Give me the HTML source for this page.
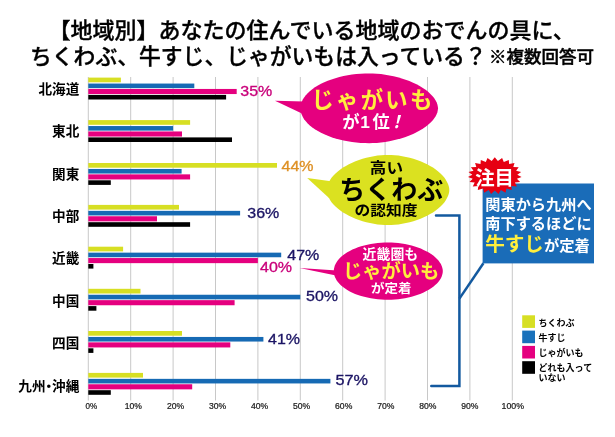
<!DOCTYPE html>
<html lang="ja"><head><meta charset="utf-8"><title>地域別 おでんの具</title>
<style>
html,body{margin:0;padding:0;background:#fff;}
body{width:615px;height:437px;overflow:hidden;}
svg{display:block;}
text{font-family:"Liberation Sans","Noto Sans CJK JP",sans-serif;}
.lat text,.lat{font-family:"Liberation Sans",sans-serif;}
</style></head><body>
<svg width="615" height="437" viewBox="0 0 615 437">
<rect width="615" height="437" fill="#fff"/>
<g id="title" fill="#000" font-weight="500" stroke="#000" stroke-width="0.35">
<text x="48.6" y="37.9" font-size="22">【地域別】あなたの住んでいる地域のおでんの具に、</text>
<text x="30" y="64.3" font-size="21.8">ちくわぶ、牛すじ、じゃがいもは入っている？</text>
<text x="489" y="63" font-size="17.3" font-weight="500" stroke-width="0.45" textLength="105" lengthAdjust="spacingAndGlyphs">※複数回答可</text>
</g>
<g id="grid" stroke="#c8c8c8" stroke-width="1">
<line x1="88.3" y1="77" x2="88.3" y2="400.5"/>
<line x1="130.7" y1="77" x2="130.7" y2="400.5"/>
<line x1="173.1" y1="77" x2="173.1" y2="400.5"/>
<line x1="215.5" y1="77" x2="215.5" y2="400.5"/>
<line x1="257.9" y1="77" x2="257.9" y2="400.5"/>
<line x1="300.3" y1="77" x2="300.3" y2="400.5"/>
<line x1="342.7" y1="77" x2="342.7" y2="400.5"/>
<line x1="385.1" y1="77" x2="385.1" y2="400.5"/>
<line x1="427.5" y1="77" x2="427.5" y2="400.5"/>
<line x1="469.9" y1="77" x2="469.9" y2="400.5"/>
<line x1="512.3" y1="77" x2="512.3" y2="400.5"/>
</g>
<g id="bars">
<rect x="88.3" y="77.60" width="32.6" height="4.7" fill="#d7df23"/>
<rect x="88.3" y="83.55" width="106.0" height="4.6" fill="#166ab4"/>
<rect x="88.3" y="88.95" width="148.4" height="5.1" fill="#e5007f"/>
<rect x="88.3" y="94.90" width="137.8" height="4.6" fill="#000000"/>
<rect x="88.3" y="120.10" width="101.8" height="4.7" fill="#d7df23"/>
<rect x="88.3" y="126.05" width="84.8" height="4.6" fill="#166ab4"/>
<rect x="88.3" y="131.45" width="93.7" height="5.1" fill="#e5007f"/>
<rect x="88.3" y="137.40" width="143.7" height="4.6" fill="#000000"/>
<rect x="88.3" y="163.00" width="188.7" height="4.7" fill="#d7df23"/>
<rect x="88.3" y="168.95" width="93.3" height="4.6" fill="#166ab4"/>
<rect x="88.3" y="174.35" width="101.8" height="5.1" fill="#e5007f"/>
<rect x="88.3" y="180.30" width="22.5" height="4.6" fill="#000000"/>
<rect x="88.3" y="204.90" width="90.7" height="4.7" fill="#d7df23"/>
<rect x="88.3" y="210.85" width="151.8" height="4.6" fill="#166ab4"/>
<rect x="88.3" y="216.25" width="68.7" height="5.1" fill="#e5007f"/>
<rect x="88.3" y="222.20" width="101.8" height="4.6" fill="#000000"/>
<rect x="88.3" y="246.70" width="34.8" height="4.7" fill="#d7df23"/>
<rect x="88.3" y="252.65" width="192.9" height="4.6" fill="#166ab4"/>
<rect x="88.3" y="258.05" width="169.6" height="5.1" fill="#e5007f"/>
<rect x="88.3" y="264.00" width="5.1" height="4.6" fill="#000000"/>
<rect x="88.3" y="288.80" width="52.2" height="4.7" fill="#d7df23"/>
<rect x="88.3" y="294.75" width="212.0" height="4.6" fill="#166ab4"/>
<rect x="88.3" y="300.15" width="146.3" height="5.1" fill="#e5007f"/>
<rect x="88.3" y="306.10" width="8.1" height="4.6" fill="#000000"/>
<rect x="88.3" y="331.00" width="93.7" height="4.7" fill="#d7df23"/>
<rect x="88.3" y="336.95" width="175.1" height="4.6" fill="#166ab4"/>
<rect x="88.3" y="342.35" width="142.0" height="5.1" fill="#e5007f"/>
<rect x="88.3" y="348.30" width="5.1" height="4.6" fill="#000000"/>
<rect x="88.3" y="372.90" width="54.7" height="4.7" fill="#d7df23"/>
<rect x="88.3" y="378.85" width="242.1" height="4.6" fill="#166ab4"/>
<rect x="88.3" y="384.25" width="103.9" height="5.1" fill="#e5007f"/>
<rect x="88.3" y="390.20" width="22.5" height="4.6" fill="#000000"/>
</g>
<g id="cats" font-size="13.6" font-weight="700" text-anchor="end" fill="#000">
<text x="79.3" y="93.6">北海道</text>
<text x="79.3" y="136.0">東北</text>
<text x="79.3" y="178.5">関東</text>
<text x="79.3" y="220.9">中部</text>
<text x="79.3" y="263.3">近畿</text>
<text x="79.3" y="305.8">中国</text>
<text x="79.3" y="348.2">四国</text>
<text x="79.3" y="390.6">九州<tspan dx="-3.5">・</tspan><tspan dx="-3.5">沖縄</tspan></text>
</g>
<g id="axis" font-size="8.3" font-weight="400" text-anchor="middle" fill="#1a1a1a" stroke="#1a1a1a" stroke-width="0.22" class="lat">
<text x="91.3" y="408.6" textLength="11.7" lengthAdjust="spacingAndGlyphs">0%</text>
<text x="133.4" y="408.6" textLength="17.2" lengthAdjust="spacingAndGlyphs">10%</text>
<text x="175.5" y="408.6" textLength="17.2" lengthAdjust="spacingAndGlyphs">20%</text>
<text x="217.5" y="408.6" textLength="17.2" lengthAdjust="spacingAndGlyphs">30%</text>
<text x="259.6" y="408.6" textLength="17.2" lengthAdjust="spacingAndGlyphs">40%</text>
<text x="301.6" y="408.6" textLength="17.2" lengthAdjust="spacingAndGlyphs">50%</text>
<text x="343.7" y="408.6" textLength="17.2" lengthAdjust="spacingAndGlyphs">60%</text>
<text x="385.8" y="408.6" textLength="17.2" lengthAdjust="spacingAndGlyphs">70%</text>
<text x="427.8" y="408.6" textLength="17.2" lengthAdjust="spacingAndGlyphs">80%</text>
<text x="469.9" y="408.6" textLength="17.2" lengthAdjust="spacingAndGlyphs">90%</text>
<text x="512.8" y="408.6" textLength="22.5" lengthAdjust="spacingAndGlyphs">100%</text>
</g>
<g id="pct" class="lat" font-size="13.8" stroke-width="0.3" transform="translate(0,0.5)">
<text x="240.3" y="95.6" fill="#c9007a" stroke="#c9007a" textLength="32" lengthAdjust="spacingAndGlyphs">35%</text>
<text x="281.6" y="170" fill="#de9024" stroke="#de9024" textLength="32" lengthAdjust="spacingAndGlyphs">44%</text>
<text x="247.3" y="217" fill="#1b1464" stroke="#1b1464" textLength="32" lengthAdjust="spacingAndGlyphs">36%</text>
<text x="287.3" y="259" fill="#1b1464" stroke="#1b1464" textLength="32" lengthAdjust="spacingAndGlyphs">47%</text>
<text x="260" y="271.8" fill="#c9007a" stroke="#c9007a" textLength="32" lengthAdjust="spacingAndGlyphs">40%</text>
<text x="306" y="300.4" fill="#1b1464" stroke="#1b1464" textLength="32" lengthAdjust="spacingAndGlyphs">50%</text>
<text x="268" y="343" fill="#1b1464" stroke="#1b1464" textLength="32" lengthAdjust="spacingAndGlyphs">41%</text>
<text x="335.5" y="384" fill="#1b1464" stroke="#1b1464" textLength="32.5" lengthAdjust="spacingAndGlyphs">57%</text>
</g>
<g id="bracket" fill="none" stroke="#13599f" stroke-width="2.5" stroke-linejoin="miter" stroke-linecap="round">
<polyline points="436,215.4 459.4,215.4 459.4,386.1 431.3,386.1"/>
<line x1="459.4" y1="298.6" x2="483.4" y2="263.3" stroke-linecap="butt"/>
</g>
<g id="bubble1">
<path d="M275,100.8 L304,101.6 L303,114 Z" fill="#e5007f"/>
<path d="M438.0,108.3 L437.8,110.1 L437.4,112.2 L436.6,114.3 L435.5,116.4 L434.1,118.5 L432.4,120.7 L430.4,122.7 L428.1,124.8 L425.6,126.8 L422.8,128.7 L419.7,130.5 L416.5,132.3 L413.1,133.9 L409.4,135.5 L405.6,136.9 L401.7,138.2 L397.7,139.3 L393.6,140.3 L389.4,141.2 L385.2,141.9 L381.0,142.5 L376.8,142.9 L372.8,143.1 L369.2,143.2 L365.0,143.1 L360.7,142.9 L356.3,142.5 L352.0,142.0 L347.7,141.3 L343.5,140.5 L339.4,139.5 L335.4,138.4 L331.5,137.2 L327.8,135.8 L324.3,134.3 L321.0,132.8 L317.9,131.1 L314.9,129.3 L312.3,127.4 L309.8,125.4 L307.7,123.4 L305.8,121.3 L304.1,119.2 L302.8,117.0 L301.8,114.8 L301.0,112.6 L300.6,110.4 L300.4,108.3 L300.6,106.2 L301.0,104.0 L301.8,101.8 L302.8,99.6 L304.1,97.4 L305.8,95.3 L307.7,93.2 L309.8,91.2 L312.3,89.2 L314.9,87.3 L317.9,85.5 L321.0,83.8 L324.3,82.3 L327.8,80.8 L331.5,79.4 L335.4,78.2 L339.4,77.1 L343.5,76.1 L347.7,75.3 L352.0,74.6 L356.3,74.1 L360.7,73.7 L365.0,73.5 L369.2,73.4 L372.8,73.5 L376.8,73.7 L381.0,74.1 L385.2,74.7 L389.4,75.4 L393.6,76.3 L397.7,77.3 L401.7,78.4 L405.6,79.7 L409.4,81.1 L413.1,82.7 L416.5,84.3 L419.7,86.1 L422.8,87.9 L425.6,89.8 L428.1,91.8 L430.4,93.9 L432.4,95.9 L434.1,98.1 L435.5,100.2 L436.6,102.3 L437.4,104.4 L437.8,106.5Z" fill="#e5007f"/>
<text x="373" y="108.2" font-size="22.4" letter-spacing="2.2" font-weight="700" fill="#ffee3d" text-anchor="middle">じゃがいも</text>
<text x="342.2" y="127.8" font-size="17.3" font-weight="700" fill="#fff">が<tspan dx="0.8">1</tspan><tspan dx="2.6">位</tspan><tspan dx="-2" font-style="italic">！</tspan></text>
</g>
<g id="bubble2">
<path d="M307.2,178 L331,181.2 L329,198 Z" fill="#dbe120"/>
<path d="M449.3,190.0 L449.2,191.8 L448.7,193.9 L448.0,196.0 L447.0,198.1 L445.8,200.3 L444.3,202.4 L442.5,204.5 L440.5,206.6 L438.2,208.6 L435.7,210.5 L433.0,212.4 L430.1,214.1 L427.1,215.8 L423.8,217.3 L420.5,218.8 L417.0,220.0 L413.4,221.2 L409.7,222.2 L406.0,223.1 L402.2,223.8 L398.5,224.4 L394.8,224.8 L391.2,225.0 L388.0,225.1 L384.8,225.0 L381.2,224.8 L377.5,224.4 L373.8,223.8 L370.0,223.1 L366.3,222.2 L362.6,221.2 L359.0,220.0 L355.5,218.8 L352.2,217.3 L348.9,215.8 L345.9,214.1 L343.0,212.4 L340.3,210.5 L337.8,208.6 L335.5,206.6 L333.5,204.5 L331.7,202.4 L330.2,200.3 L329.0,198.1 L328.0,196.0 L327.3,193.9 L326.8,191.8 L326.7,190.0 L326.8,188.2 L327.3,186.1 L328.0,184.0 L329.0,181.9 L330.2,179.7 L331.7,177.6 L333.5,175.5 L335.5,173.4 L337.8,171.4 L340.3,169.5 L343.0,167.6 L345.9,165.9 L348.9,164.2 L352.2,162.7 L355.5,161.2 L359.0,160.0 L362.6,158.8 L366.3,157.8 L370.0,156.9 L373.8,156.2 L377.5,155.6 L381.2,155.2 L384.8,155.0 L388.0,154.9 L391.2,155.0 L394.8,155.2 L398.5,155.6 L402.2,156.2 L406.0,156.9 L409.7,157.8 L413.4,158.8 L417.0,160.0 L420.5,161.2 L423.8,162.7 L427.1,164.2 L430.1,165.9 L433.0,167.6 L435.7,169.5 L438.2,171.4 L440.5,173.4 L442.5,175.5 L444.3,177.6 L445.8,179.7 L447.0,181.9 L448.0,184.0 L448.7,186.1 L449.2,188.2Z" fill="#dbe120"/>
<text x="369.8" y="172.7" font-size="14.8" font-weight="700" fill="#000" textLength="33.2" lengthAdjust="spacingAndGlyphs">高い</text>
<text x="391.2" y="199.2" font-size="26" font-weight="700" fill="#000" text-anchor="middle">ちくわぶ</text>
<text x="354.4" y="215.2" font-size="13.9" font-weight="700" fill="#000" textLength="63.2" lengthAdjust="spacingAndGlyphs">の認知度</text>
</g>
<g id="bubble3">
<path d="M299.6,268 L337,270.4 L336,275.6 Z" fill="#e5007f"/>
<path d="M442.8,271.1 L442.7,272.8 L442.3,274.6 L441.7,276.4 L440.9,278.2 L439.8,279.9 L438.5,281.7 L437.0,283.4 L435.2,285.1 L433.3,286.7 L431.1,288.2 L428.8,289.7 L426.3,291.1 L423.6,292.4 L420.8,293.7 L417.8,294.8 L414.8,295.8 L411.6,296.7 L408.3,297.5 L405.0,298.2 L401.6,298.8 L398.2,299.2 L394.8,299.5 L391.5,299.7 L388.3,299.8 L384.7,299.7 L381.2,299.6 L377.7,299.2 L374.2,298.8 L370.8,298.3 L367.4,297.6 L364.2,296.8 L361.1,296.0 L358.0,295.0 L355.1,293.9 L352.4,292.7 L349.8,291.4 L347.3,290.0 L345.1,288.6 L343.0,287.1 L341.1,285.5 L339.4,283.8 L337.9,282.1 L336.7,280.4 L335.7,278.6 L334.8,276.7 L334.3,274.9 L333.9,273.0 L333.8,271.1 L333.9,269.3 L334.3,267.4 L334.8,265.6 L335.7,263.7 L336.7,261.9 L337.9,260.2 L339.4,258.5 L341.1,256.8 L343.0,255.2 L345.1,253.7 L347.3,252.3 L349.8,250.9 L352.4,249.6 L355.1,248.4 L358.0,247.3 L361.1,246.3 L364.2,245.5 L367.4,244.7 L370.8,244.0 L374.2,243.5 L377.7,243.1 L381.2,242.7 L384.7,242.6 L388.3,242.5 L391.5,242.6 L394.8,242.8 L398.2,243.1 L401.6,243.5 L405.0,244.1 L408.3,244.8 L411.6,245.6 L414.8,246.5 L417.8,247.5 L420.8,248.6 L423.6,249.9 L426.3,251.2 L428.8,252.6 L431.1,254.1 L433.3,255.6 L435.2,257.2 L437.0,258.9 L438.5,260.6 L439.8,262.4 L440.9,264.1 L441.7,265.9 L442.3,267.7 L442.7,269.5Z" fill="#e5007f"/>
<text x="390.4" y="259.2" font-size="13.9" font-weight="700" fill="#fff" text-anchor="middle">近畿圏も</text>
<text x="391.2" y="278" font-size="19.3" font-weight="700" fill="#ffee3d" text-anchor="middle">じゃがいも</text>
<text x="371" y="292.8" font-size="12.2" font-weight="700" fill="#fff" textLength="40.5" lengthAdjust="spacingAndGlyphs">が定着</text>
</g>
<g id="box">
<rect x="482.6" y="183.5" width="111.4" height="79.9" fill="#1a6cb8"/>
<text x="485.3" y="210.4" font-size="15.2" font-weight="700" fill="#fff">関東から九州へ</text>
<text x="485.3" y="229" font-size="15.2" font-weight="700" fill="#fff">南下するほどに</text>
<text x="485.2" y="251.4" font-size="19.6" font-weight="700" fill="#ffee3d">牛すじ<tspan font-size="15.3" fill="#fff" dx="0">が定着</tspan></text>
</g>
<g id="star">
<polygon fill="#e60012" points="494.8,157.2 497.9,160.9 502.1,157.9 503.8,162.0 508.8,159.9 509.1,164.1 514.5,163.1 513.3,167.1 518.7,167.2 516.1,170.7 521.1,171.9 517.3,174.7 521.6,177.0 516.9,178.7 520.1,181.9 514.9,182.6 516.8,186.4 511.3,185.9 511.8,190.1 506.5,188.4 505.5,192.7 500.9,190.0 498.5,194.0 494.8,190.6 491.1,194.0 488.7,190.0 484.1,192.7 483.1,188.4 477.8,190.1 478.3,185.9 472.8,186.4 474.7,182.6 469.5,181.9 472.7,178.7 468.0,177.0 472.3,174.7 468.5,171.9 473.5,170.7 470.9,167.2 476.3,167.1 475.1,163.1 480.5,164.1 480.8,159.9 485.8,162.0 487.5,157.9 491.7,160.9"/>
</g>
<text x="494.6" y="185" font-size="19.4" font-weight="700" fill="#fff" text-anchor="middle">注目</text>
<g id="legend" font-size="9" font-weight="700" fill="#000">
<rect x="522.2" y="315.3" width="12.8" height="12.6" fill="#d7df23"/>
<rect x="522.2" y="330.6" width="12.8" height="12.6" fill="#1971bb"/>
<rect x="522.2" y="345.9" width="12.8" height="12.6" fill="#e5007f"/>
<rect x="522.2" y="361.2" width="12.8" height="12.6" fill="#000"/>
<text x="538.6" y="325.6">ちくわぶ</text>
<text x="538.6" y="340.6">牛すじ</text>
<text x="538.6" y="355.7">じゃがいも</text>
<text x="538.6" y="370.7">どれも入って</text>
<text x="538.6" y="380.6">いない</text>
</g>
</svg>
</body></html>
